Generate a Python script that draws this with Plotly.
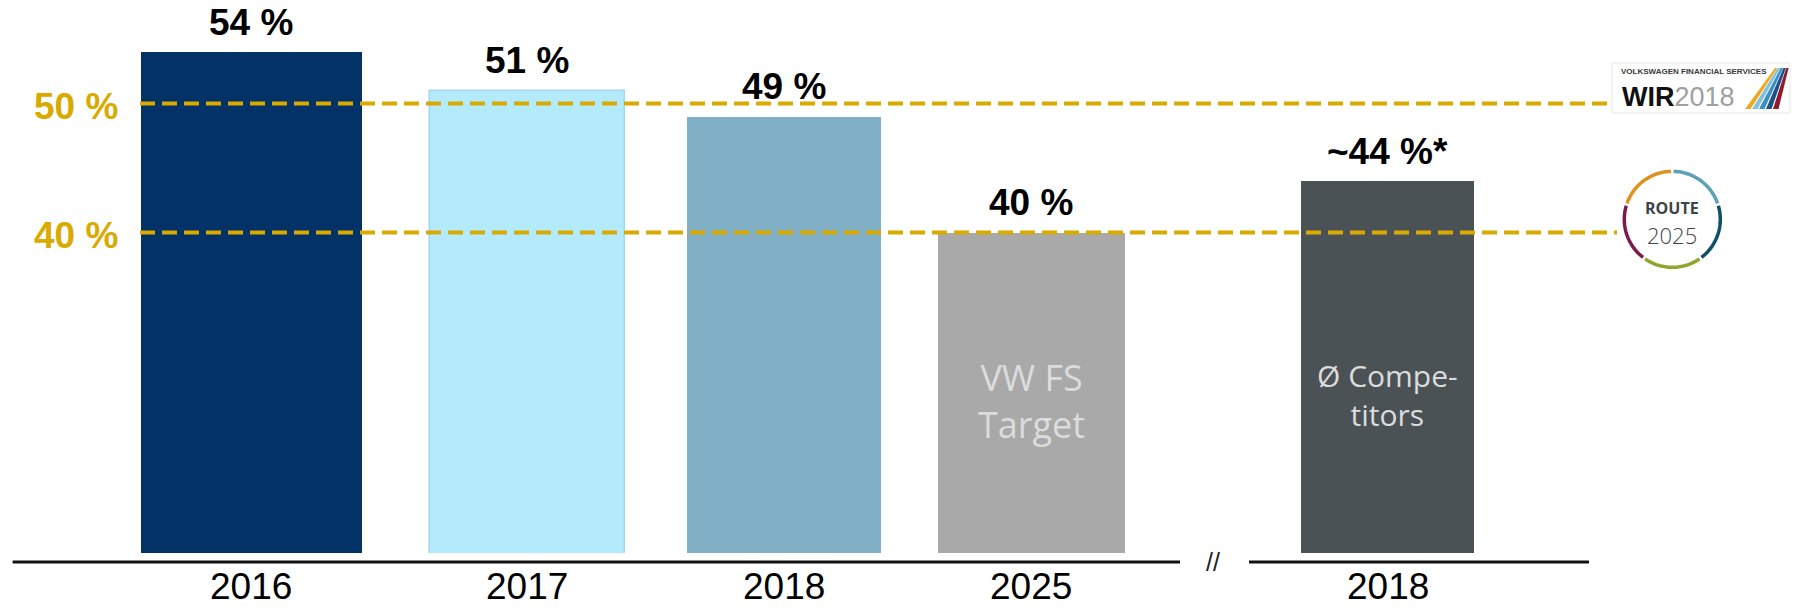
import numpy as np
import plotly.graph_objects as go

# ---- data -------------------------------------------------------------
years = ["2016", "2017", "2018", "2025", "2018"]
ratio = [54, 51, 49, 40, 44]
value_labels = ["54 %", "51 %", "49 %", "40 %", "~44 %*"]
inner_labels = [None, None, None, ["VW FS", "Target"], ["Ø Compe-", "titors"]]
ref_levels = [50, 40]
ref_labels = ["50 %", "40 %"]

# ---- layout constants -------------------------------------------------
W, H = 1799, 607
PLOT_B = 54
PLOT_H = H - PLOT_B
slot = [0, 1.06, 2.05, 3.0, 4.37]
bar_w = [0.85, 0.75, 0.746, 0.72, 0.665]
fill = ["#033366", "#B4EBFC", "#80AFC6", "#A9A9A9", "#4B5256"]
edge = ["#033366", "#A0D6F6", "#80AFC6", "#A9A9A9", "#4B5256"]
edge_w = [0, 1.5, 0, 0, 0]
# inner caption style per bar: (font size, block centre y in px)
inner_style = [None, None, None, (36, 400.6), (30, 394.5)]
X_RANGE = [-0.967, 5.952]
Y_RANGE = [15.163, 58.031]
GOLD = "#D9AA00"
SANS = "Liberation Sans, Arial, sans-serif"
HUMANIST = "Open Sans, Noto Sans, sans-serif"


def px(x):
    return x / W


def py(y):
    return (PLOT_H - y) / PLOT_H


fig = go.Figure()
fig.add_trace(go.Bar(
    x=slot, y=ratio, width=bar_w,
    marker=dict(color=fill, line=dict(color=edge, width=edge_w)),
    hoverinfo="skip", showlegend=False,
))

shapes = []
annotations = []

# value labels above the bars
for xs, v, lab in zip(slot, ratio, value_labels):
    annotations.append(dict(
        x=xs, y=v, xref="x", yref="y", text=f"<b>{lab}</b>", showarrow=False,
        yshift=30, xanchor="center", yanchor="middle", borderpad=0,
        font=dict(family=SANS, size=37, color="#000000"),
    ))

# captions inside the grey bars
for xs, lines, st in zip(slot, inner_labels, inner_style):
    if not lines:
        continue
    size, yc = st
    annotations.append(dict(
        x=xs, y=py(yc), xref="x", yref="paper", text="<br>".join(lines),
        showarrow=False, xanchor="center", yanchor="middle", align="center",
        borderpad=0, font=dict(family=HUMANIST, size=size, color="#DCDCDC"),
    ))

# category labels under the baseline
for xs, yr in zip(slot, years):
    annotations.append(dict(
        x=xs, y=py(586.3), xref="x", yref="paper", text=yr,
        showarrow=False, xanchor="center", yanchor="middle", borderpad=0,
        font=dict(family=SANS, size=37, color="#000000"),
    ))

# dashed reference levels with their labels on the left
ref_x_end = [1613, 1617]
for lvl, lab, xe in zip(ref_levels, ref_labels, ref_x_end):
    shapes.append(dict(
        type="line", xref="paper", yref="y", x0=px(140), x1=px(xe), y0=lvl, y1=lvl,
        line=dict(color=GOLD, width=4, dash="15px,7px"), layer="above",
    ))
    annotations.append(dict(
        x=px(76), y=lvl, xref="paper", yref="y", text=f"<b>{lab}</b>",
        showarrow=False, xanchor="center", yanchor="middle", yshift=-3, borderpad=0,
        font=dict(family=SANS, size=37, color=GOLD),
    ))

# split baseline with break mark
for x0, x1 in [(12.6, 1180), (1249, 1589)]:
    shapes.append(dict(
        type="line", xref="paper", yref="paper", x0=px(x0), x1=px(x1),
        y0=py(562), y1=py(562), line=dict(color="#111111", width=3),
    ))
annotations.append(dict(
    x=px(1213), y=py(562), xref="paper", yref="paper", text="//", showarrow=False,
    xanchor="center", yanchor="middle", borderpad=0,
    font=dict(family=SANS, size=25, color="#222222"),
))

# "WIR 2018" badge
shapes.append(dict(
    type="rect", xref="paper", yref="paper", x0=px(1612), x1=px(1790),
    y0=py(113), y1=py(63), line=dict(color="#E6E6E6", width=1), fillcolor="rgba(0,0,0,0)",
))
annotations.append(dict(
    x=px(1694), y=py(72), xref="paper", yref="paper",
    text="<b>VOLKSWAGEN FINANCIAL SERVICES</b>", showarrow=False, borderpad=0,
    xanchor="center", yanchor="middle", font=dict(family=SANS, size=8, color="#3A3A3A"),
))
annotations.append(dict(
    x=px(1621), y=py(97), xref="paper", yref="paper",
    text="<b>WIR</b><span style='color:#A0A0A0'>2018</span>", showarrow=False, borderpad=0,
    xanchor="left", yanchor="middle", font=dict(family=SANS, size=27, color="#111111"),
))
stripe_cols = ["#F0A81C", "#7EC3E0", "#3B8FC4", "#1F4F8A", "#8E1B2E"]
for i, c in enumerate(stripe_cols):
    bx = 1745 + 7 * i
    tx = 1775 + 2.8 * i
    path = (f"M {px(bx)},{py(109)} L {px(bx + 5.5)},{py(109)} "
            f"L {px(tx + 2.4)},{py(68)} L {px(tx)},{py(68)} Z")
    shapes.append(dict(type="path", xref="paper", yref="paper", path=path,
                       fillcolor=c, line=dict(width=0)))

# "ROUTE 2025" ring badge
cx, cy, r = 1672.3, 219.3, 48
ring_cols = ["#5AA2B4", "#0C4F66", "#8FA52B", "#7A1C48", "#E0921F"]
gap = 3.0
for i, c in enumerate(ring_cols):
    th = np.radians(np.linspace(72 * i + gap / 2, 72 * (i + 1) - gap / 2, 40))
    xs = cx + r * np.sin(th)
    ys = cy - r * np.cos(th)
    path = "M " + " L ".join(f"{px(a)},{py(b)}" for a, b in zip(xs, ys))
    shapes.append(dict(type="path", xref="paper", yref="paper", path=path,
                       line=dict(color=c, width=3.5), fillcolor="rgba(0,0,0,0)"))
annotations.append(dict(
    x=px(cx), y=py(208), xref="paper", yref="paper", text="<b>ROUTE</b>",
    showarrow=False, xanchor="center", yanchor="middle", borderpad=0,
    font=dict(family=HUMANIST, size=16, color="#3D4448"),
))
annotations.append(dict(
    x=px(cx), y=py(234.5), xref="paper", yref="paper", text="2025",
    showarrow=False, xanchor="center", yanchor="middle", borderpad=0,
    font=dict(family=HUMANIST, size=22, color="#3D4448", weight=300),
))

fig.update_layout(
    width=W, height=H,
    margin=dict(l=0, r=0, t=0, b=PLOT_B, pad=0),
    paper_bgcolor="white", plot_bgcolor="white",
    xaxis=dict(visible=False, range=X_RANGE, fixedrange=True),
    yaxis=dict(visible=False, range=Y_RANGE, fixedrange=True),
    bargap=0, shapes=shapes, annotations=annotations,
)

fig.write_html("out.html")
